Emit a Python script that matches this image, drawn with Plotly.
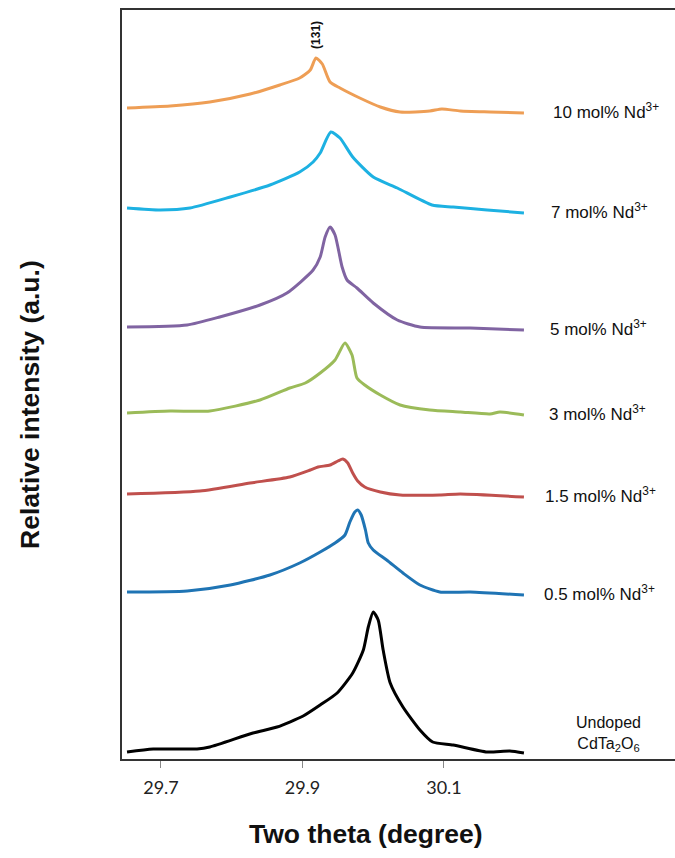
import plotly.graph_objects as go

# Two-theta (degree) and relative intensity (a.u., vertically offset) per sample
x_undoped = [29.652, 29.689, 29.751, 29.769, 29.830, 29.864, 29.901, 29.925, 29.949, 29.971, 29.986, 29.993, 30.000, 30.007, 30.014, 30.024, 30.042, 30.066, 30.084, 30.113, 30.161, 30.193, 30.213]
y_undoped = [7, 10, 10, 12, 26, 32, 43, 54, 66, 86, 109, 132, 147, 139, 109, 76, 52, 29, 17, 14, 7, 8, 6]

x_05 = [29.652, 29.737, 29.798, 29.854, 29.896, 29.925, 29.946, 29.960, 29.967, 29.974, 29.978, 29.983, 29.989, 29.993, 30.000, 30.019, 30.042, 30.066, 30.094, 30.137, 30.213]
y_05 = [167, 168, 174, 184, 196, 207, 216, 224, 237, 247, 249, 244, 229, 216, 209, 199, 186, 174, 167, 167, 164]

x_15 = [29.652, 29.755, 29.826, 29.882, 29.911, 29.922, 29.939, 29.950, 29.957, 29.964, 29.971, 29.978, 29.988, 30.010, 30.038, 30.094, 30.123, 30.213]
y_15 = [265, 268, 276, 282, 289, 292, 294, 298, 300, 296, 286, 278, 272, 267, 264, 264, 265, 262]

x_3 = [29.652, 29.713, 29.769, 29.840, 29.882, 29.904, 29.925, 29.946, 29.960, 29.970, 29.977, 29.988, 30.010, 30.038, 30.080, 30.123, 30.165, 30.179, 30.213]
y_3 = [346, 348, 348, 359, 371, 376, 386, 399, 416, 404, 381, 374, 364, 354, 349, 347, 345, 347, 344]

x_5 = [29.652, 29.737, 29.783, 29.840, 29.878, 29.915, 29.925, 29.932, 29.939, 29.946, 29.956, 29.963, 29.977, 30.000, 30.034, 30.066, 30.137, 30.213]
y_5 = [432, 434, 442, 454, 466, 489, 502, 522, 532, 524, 492, 479, 471, 456, 439, 432, 431, 429]

x_7 = [29.652, 29.699, 29.741, 29.798, 29.854, 29.896, 29.915, 29.925, 29.940, 29.953, 29.971, 30.000, 30.034, 30.083, 30.113, 30.161, 30.213]
y_7 = [551, 549, 551, 562, 574, 587, 597, 606, 627, 621, 602, 582, 571, 554, 552, 549, 546]

x_10 = [29.652, 29.713, 29.769, 29.826, 29.868, 29.896, 29.911, 29.919, 29.928, 29.939, 29.953, 29.981, 30.010, 30.038, 30.080, 30.097, 30.123, 30.165, 30.213]
y_10 = [651, 653, 657, 665, 674, 681, 689, 701, 695, 677, 671, 661, 652, 647, 648, 650, 648, 647, 646]

labels = ["Undoped<br>CdTa<sub>2</sub>O<sub>6</sub>", "0.5 mol% Nd<sup>3+</sup>", "1.5 mol% Nd<sup>3+</sup>",
          "3 mol% Nd<sup>3+</sup>", "5 mol% Nd<sup>3+</sup>", "7 mol% Nd<sup>3+</sup>", "10 mol% Nd<sup>3+</sup>"]
colors = ["#000000", "#1F74B4", "#C0504D", "#9BBB59", "#8064A2", "#1DB1E2", "#EE9E55"]
xs = [x_undoped, x_05, x_15, x_3, x_5, x_7, x_10]
ys = [y_undoped, y_05, y_15, y_3, y_5, y_7, y_10]
# label left edges (paper fraction)
label_x = [0.880, 0.760, 0.762, 0.769, 0.771, 0.773, 0.775]

tick_vals = [29.7, 29.9, 30.1]
tick_text = ["29.7", "29.9", "30.1"]

fig = go.Figure()
for x, y, c in zip(xs, ys, colors):
    fig.add_trace(go.Scatter(x=x, y=y, mode="lines",
                             line=dict(color=c, width=3, shape="spline", smoothing=0.6),
                             showlegend=False, hoverinfo="skip"))

lab_font = dict(family="Liberation Sans, Arial, sans-serif", size=17, color="#111111")
for i, (y, lab, lx) in enumerate(zip(ys, labels, label_x)):
    if i == 0:
        fig.add_annotation(xref="paper", x=lx, y=y[-1] + 19, text=lab, showarrow=False,
                           font=dict(family="Liberation Sans, Arial, sans-serif", size=16, color="#111111"),
                           xanchor="center", yanchor="middle", align="center")
    else:
        fig.add_annotation(xref="paper", x=lx, y=y[-1] + 2, text=lab, showarrow=False, font=lab_font,
                           xanchor="left", yanchor="middle")

# (131) reflection label
fig.add_annotation(x=x_10[7], y=y_10[7] + 7, text="<b>(131)</b>", showarrow=False, textangle=-90,
                   font=dict(family="Liberation Sans, Arial, sans-serif", size=12, color="#111111"),
                   xanchor="center", yanchor="bottom")

# axis titles
fig.add_annotation(xref="paper", yref="paper", x=0.441, y=-0.100, text="<b>Two theta (degree)</b>",
                   showarrow=False, font=dict(family="Liberation Sans, Arial, sans-serif", size=26.5, color="#111111"),
                   xanchor="center", yanchor="middle")
fig.add_annotation(xref="paper", yref="paper", x=-0.166, y=0.473, text="<b>Relative intensity (a.u.)</b>",
                   showarrow=False, textangle=-90,
                   font=dict(family="Liberation Sans, Arial, sans-serif", size=26.5, color="#111111"),
                   xanchor="center", yanchor="middle")

fig.update_layout(
    width=675, height=858,
    margin=dict(l=122, r=0, t=10, b=99),
    paper_bgcolor="white", plot_bgcolor="white",
    xaxis=dict(range=[29.6449, 30.4265], tickvals=tick_vals, ticktext=tick_text,
               showgrid=False, zeroline=False, showline=True, linecolor="#333333", linewidth=2,
               mirror=True, ticks="outside", ticklen=7, tickcolor="#888888", tickwidth=1,
               ticklabelstandoff=4,
               tickfont=dict(family="Lato, Open Sans, sans-serif", size=18, color="#222222")),
    yaxis=dict(range=[0, 749], showticklabels=False, showgrid=False, zeroline=False,
               showline=True, linecolor="#333333", linewidth=2, ticks=""),
)

fig.write_html("out.html")
